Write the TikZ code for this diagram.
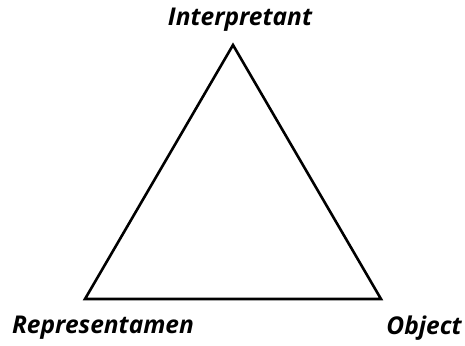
\documentclass[tikz,border=0pt]{standalone}
\usepackage{fontspec}
\setmainfont{Open Sans}
\usetikzlibrary{positioning}

\begin{document}
\begin{tikzpicture}[
    x=1pt, y=-1pt,
    lbl/.style={font=\fontsize{24.5}{28}\selectfont\bfseries\itshape, inner sep=0pt},
    side/.style={line width=2.6pt, line join=miter},
]
\useasboundingbox (0,0) rectangle (465,345);
\coordinate (top) at (233,45);
\coordinate (left) at (85,299);
\coordinate (right) at (381,299);
\node[lbl] (interp) at (240,20) {Interpretant};
\node[lbl] (repr) at (103,328) {Representamen};
\node[lbl] (obj) at (424,328) {Object};
\draw[side] (top) -- (left) -- (right) -- cycle;
\end{tikzpicture}
\end{document}
